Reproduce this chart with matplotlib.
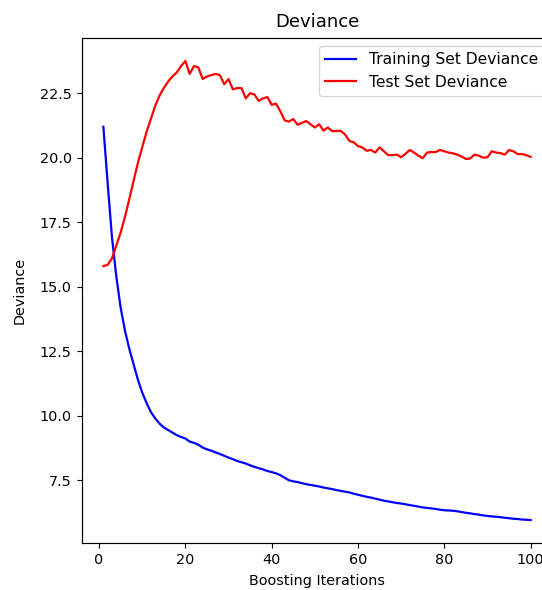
import matplotlib
matplotlib.use("Agg")
import matplotlib.pyplot as plt

iterations = list(range(1, 101))

train_deviance = [
    21.2, 19.0, 16.9, 15.4, 14.2, 13.3, 12.6, 12.0, 11.4, 10.9,
    10.5, 10.15, 9.9, 9.7, 9.55, 9.45, 9.35, 9.25, 9.18, 9.12,
    9.0, 8.95, 8.88, 8.77, 8.70, 8.65, 8.58, 8.52, 8.45, 8.38,
    8.32, 8.25, 8.20, 8.15, 8.08, 8.02, 7.97, 7.92, 7.86, 7.82,
    7.77, 7.70, 7.60, 7.50, 7.46, 7.43, 7.39, 7.35, 7.32, 7.29,
    7.26, 7.22, 7.19, 7.16, 7.12, 7.09, 7.06, 7.03, 6.98, 6.94,
    6.90, 6.86, 6.83, 6.79, 6.75, 6.71, 6.68, 6.65, 6.62, 6.60,
    6.57, 6.54, 6.51, 6.48, 6.45, 6.43, 6.41, 6.39, 6.36, 6.34,
    6.33, 6.32, 6.30, 6.27, 6.24, 6.22, 6.19, 6.17, 6.14, 6.12,
    6.10, 6.09, 6.07, 6.05, 6.03, 6.01, 6.00, 5.98, 5.97, 5.96,
]

test_deviance = [
    15.8, 15.85, 16.1, 16.6, 17.1, 17.7, 18.4, 19.1, 19.8, 20.4,
    21.0, 21.5, 22.0, 22.4, 22.7, 22.95, 23.15, 23.3, 23.55, 23.75,
    23.25, 23.55, 23.5, 23.05, 23.15, 23.2, 23.25, 23.2, 22.85, 23.05,
    22.65, 22.7, 22.7, 22.3, 22.5, 22.45, 22.2, 22.3, 22.35, 22.05,
    22.1, 21.8, 21.45, 21.4, 21.5, 21.28, 21.35, 21.42, 21.3, 21.17,
    21.3, 21.05, 21.17, 21.03, 21.04, 21.04, 20.9, 20.65, 20.6, 20.45,
    20.4, 20.27, 20.3, 20.2, 20.4, 20.25, 20.1, 20.1, 20.12, 20.02,
    20.15, 20.3, 20.2, 20.08, 19.98, 20.2, 20.22, 20.22, 20.3, 20.25,
    20.2, 20.17, 20.12, 20.05, 19.95, 19.97, 20.12, 20.08, 20.0, 20.02,
    20.25, 20.2, 20.18, 20.12, 20.3, 20.25, 20.14, 20.14, 20.1, 20.03,
]

plt.rcParams.update({
    "font.size": 10.4,
    "axes.titlesize": 13,
    "axes.titlepad": 8,
    "legend.fontsize": 11.2,
    "xtick.major.size": 3.7,
    "ytick.major.size": 3.7,
    "xtick.major.pad": 3.7,
    "ytick.major.pad": 3.7,
    "axes.labelpad": 4.5,
    "lines.linewidth": 1.6,
    "axes.linewidth": 0.85,
})

fig = plt.figure(figsize=(5.42, 5.90), dpi=100)
# The reference is cropped on the right: the axes extend past the image edge.
ax = fig.add_axes([82 / 542, 47 / 590, 470 / 542, 505 / 590])
ax.plot(iterations, train_deviance, "b-", label="Training Set Deviance")
ax.plot(iterations, test_deviance, "r-", label="Test Set Deviance")
ax.set_title("Deviance")
ax.legend(loc="upper right")
ax.set_xlabel("Boosting Iterations")
ax.set_ylabel("Deviance", labelpad=9)
fig.savefig("out.png", dpi=100)
